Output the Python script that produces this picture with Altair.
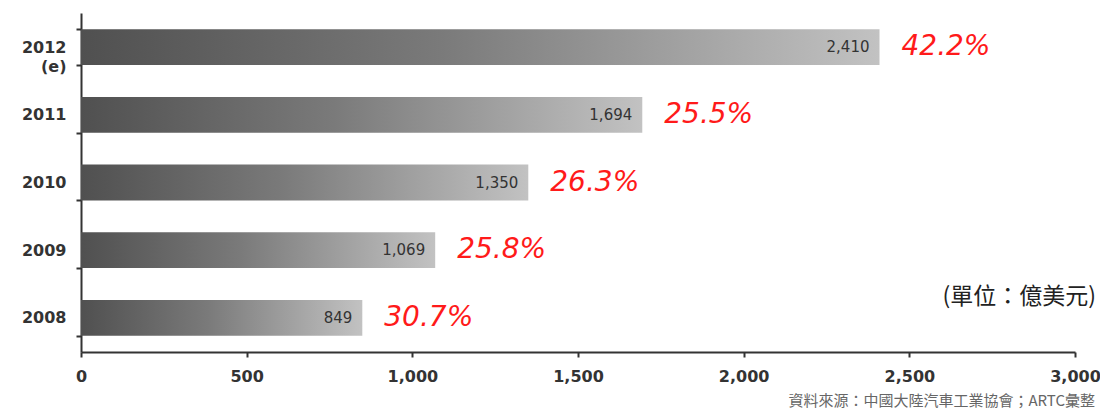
import altair as alt
import pandas as pd

years = ["2012", "2011", "2010", "2009", "2008"]
values = [2410, 1694, 1350, 1069, 849]
growth = ["42.2%", "25.5%", "26.3%", "25.8%", "30.7%"]
x_ticks = [0, 500, 1000, 1500, 2000, 2500, 3000]
unit_text = "(單位：億美元)"
source_text = "資料來源：中國大陸汽車工業協會；ARTC彙整"

df = pd.DataFrame({"year": years, "value": values, "growth": growth})

x_enc = alt.X(
    "value:Q",
    scale=alt.Scale(domain=[0, 3000], nice=False),
    axis=alt.Axis(
        values=x_ticks, format=",d", title=None, grid=False, labelFlush=False,
        labelFont="DejaVu Sans", labelFontWeight="bold", labelFontSize=16,
        labelColor="#333333", labelPadding=11, tickSize=5, tickColor="#333333",
        domainColor="#333333", domainWidth=2, tickWidth=2,
    ),
)
y_enc = alt.Y(
    "year:N",
    sort=years,
    scale=alt.Scale(paddingInner=0.47, paddingOuter=0.24),
    axis=alt.Axis(
        title=None, grid=False, tickBand="extent",
        labelExpr="datum.value == '2012' ? ['2012', '(e)'] : datum.value",
        labelFont="DejaVu Sans", labelFontWeight="bold", labelFontSize=16,
        labelLineHeight=19,
        labelColor="#333333", labelPadding=10, tickSize=5, tickColor="#333333",
        domainColor="#333333", domainWidth=2, tickWidth=2,
    ),
)

base = alt.Chart(df).encode(x=x_enc, y=y_enc)

bars = base.mark_bar(
    color=alt.Gradient(
        gradient="linear", x1=0, x2=1, y1=0, y2=0,
        stops=[
            alt.GradientStop(color="#505050", offset=0),
            alt.GradientStop(color="#7a7a7a", offset=0.45),
            alt.GradientStop(color="#c2c2c2", offset=1),
        ],
    ),
    cornerRadius=0,
)

val_text = base.mark_text(
    align="right", baseline="middle", dx=-10, font="DejaVu Sans",
    fontSize=15, color="#333333",
).encode(text=alt.Text("value:Q", format=",d"))

pct_text = base.mark_text(
    align="left", baseline="middle", dx=22, font="DejaVu Sans",
    fontSize=28, fontStyle="italic", color="#ff1a1a",
).encode(text="growth:N")

unit = alt.Chart(pd.DataFrame({"t": [unit_text]})).mark_text(
    align="right", baseline="middle", font="Noto Sans CJK TC",
    fontSize=23, color="#222222",
).encode(x=alt.value(1015), y=alt.value(284), text="t:N")

source = alt.Chart(pd.DataFrame({"t": [source_text]})).mark_text(
    align="right", baseline="middle", font="Noto Sans CJK TC",
    fontSize=15, color="#666666",
).encode(x=alt.value(1014), y=alt.value(388), text="t:N")

chart = alt.layer(bars, val_text, pct_text, unit, source).properties(
    width=994, height=339,
    autosize="none",
    padding={"left": 73, "top": 5, "right": 25, "bottom": 58},
).configure_view(stroke=None)

chart.save("out.html", embed_options={"renderer": "svg", "actions": False})
